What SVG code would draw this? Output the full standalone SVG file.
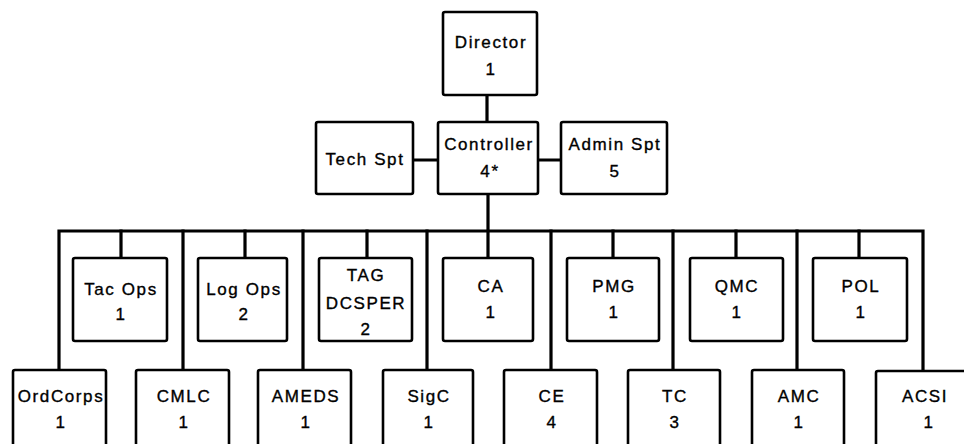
<svg xmlns="http://www.w3.org/2000/svg" width="964" height="444" viewBox="0 0 964 444">
<style>
.box{fill:#fff;stroke:#000;stroke-width:2.6}
.ln{stroke:#000;stroke-width:3.2;fill:none;stroke-linecap:square}
text{font-family:"Liberation Sans",Arial,sans-serif;font-size:17px;fill:#000;stroke:#000;stroke-width:0.35;text-anchor:middle;letter-spacing:1.6px}
</style>
<rect width="964" height="444" fill="#fff"/>
<g id="connectors">
<path class="ln" d="M487 95V122M413 160H438M538 160H561M488 194V258M59 370V231H923V370"/>
<path class="ln" d="M183 231V370M303 231V370M427 231V370M551 231V370M673 231V370M797 231V370"/>
<path class="ln" d="M121 231V258M245 231V258M367 231V258M613 231V258M736 231V258M859 231V258"/>
</g>
<g id="director"><rect class="box" x="443" y="12" width="94" height="83" rx="2"/><text x="491" y="48">Director</text><text x="491" y="75">1</text></g>
<g id="techspt"><rect class="box" x="316" y="122" width="97" height="72" rx="2"/><text x="365" y="165">Tech Spt</text></g>
<g id="controller"><rect class="box" x="438" y="122" width="100" height="72" rx="2"/><text x="489" y="150">Controller</text><text x="490" y="177">4*</text></g>
<g id="adminspt"><rect class="box" x="561" y="122" width="106" height="72" rx="2"/><text x="615" y="150">Admin Spt</text><text x="615" y="177">5</text></g>
<g id="tacops"><rect class="box" x="73" y="258" width="94" height="83" rx="2"/><text x="121" y="295">Tac Ops</text><text x="121" y="320">1</text></g>
<g id="logops"><rect class="box" x="198" y="258" width="89" height="83" rx="2"/><text x="244" y="295">Log Ops</text><text x="244" y="320">2</text></g>
<g id="tag"><rect class="box" x="319" y="258" width="93" height="83" rx="2"/><text x="366" y="281">TAG</text><text x="366" y="309">DCSPER</text><text x="366" y="335">2</text></g>
<g id="ca"><rect class="box" x="443" y="258" width="90" height="83" rx="2"/><text x="491" y="292">CA</text><text x="491" y="318">1</text></g>
<g id="pmg"><rect class="box" x="567" y="258" width="92" height="83" rx="2"/><text x="614" y="292">PMG</text><text x="614" y="318">1</text></g>
<g id="qmc"><rect class="box" x="690" y="258" width="93" height="83" rx="2"/><text x="737" y="292">QMC</text><text x="737" y="318">1</text></g>
<g id="pol"><rect class="box" x="813" y="258" width="94" height="83" rx="2"/><text x="861" y="292">POL</text><text x="861" y="318">1</text></g>
<g id="ordcorps"><rect class="box" x="13" y="370" width="93" height="90" rx="2"/><text x="61" y="402">OrdCorps</text><text x="61" y="428">1</text></g>
<g id="cmlc"><rect class="box" x="136" y="370" width="93" height="90" rx="2"/><text x="184" y="402">CMLC</text><text x="184" y="428">1</text></g>
<g id="ameds"><rect class="box" x="258" y="370" width="93" height="90" rx="2"/><text x="306" y="402">AMEDS</text><text x="306" y="428">1</text></g>
<g id="sigc"><rect class="box" x="383" y="370" width="90" height="90" rx="2"/><text x="429" y="402">SigC</text><text x="429" y="428">1</text></g>
<g id="ce"><rect class="box" x="504" y="370" width="93" height="90" rx="2"/><text x="552" y="402">CE</text><text x="552" y="428">4</text></g>
<g id="tc"><rect class="box" x="628" y="370" width="92" height="90" rx="2"/><text x="675" y="402">TC</text><text x="675" y="428">3</text></g>
<g id="amc"><rect class="box" x="752" y="370" width="92" height="90" rx="2"/><text x="799" y="402">AMC</text><text x="799" y="428">1</text></g>
<g id="acsi"><rect class="box" x="876" y="371" width="100" height="90" rx="2"/><text x="925" y="402">ACSI</text><text x="929" y="428">1</text></g>
</svg>
